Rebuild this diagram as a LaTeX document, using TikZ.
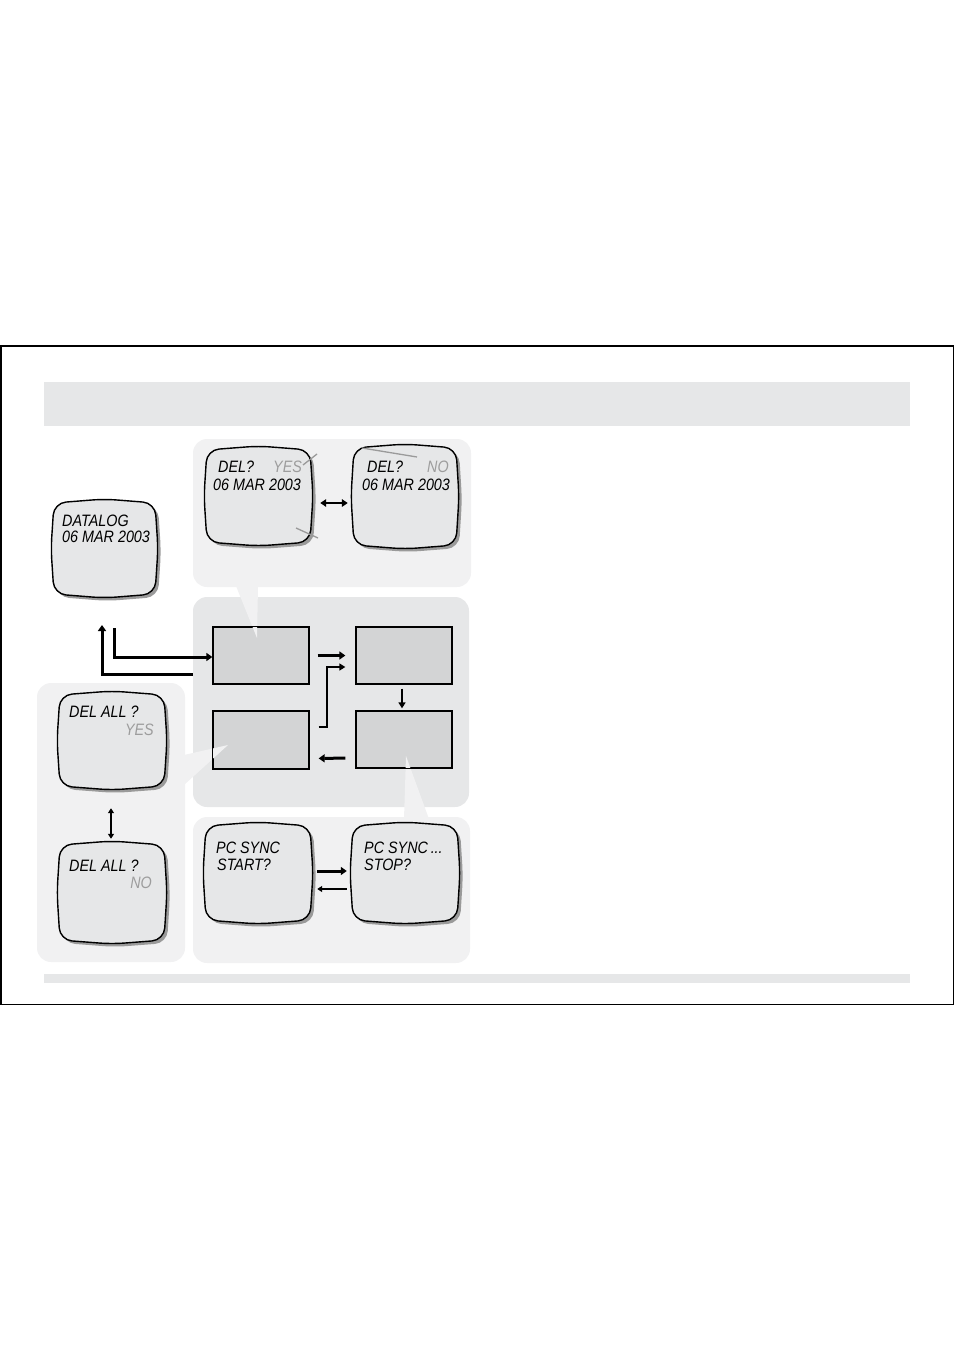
\documentclass[tikz,border=0pt]{standalone}
\usepackage{fontspec}
\setmainfont{Liberation Sans}
\newfontfamily\lcd{Liberation Sans Italic}[FakeStretch=0.87]
\usetikzlibrary{arrows.meta,calc}
\definecolor{hdr}{HTML}{E6E7E8}
\definecolor{lightpanel}{HTML}{F1F1F2}
\definecolor{midpanel}{HTML}{E6E7E8}
\definecolor{sqfill}{HTML}{D3D4D5}
\definecolor{tvfill}{HTML}{E6E7E8}
\definecolor{tvshade}{HTML}{9A9A9A}
\definecolor{dimtext}{HTML}{9D9D9D}
\definecolor{markline}{HTML}{9A9A9A}
\tikzset{
  panel/.style={rounded corners=14pt, inner sep=0pt},
  square/.style={draw=black, fill=sqfill, line width=1.3pt, minimum width=96pt, minimum height=57pt, inner sep=0pt},
  tvbody/.style={draw=black, fill=tvfill, line width=1.4pt, rounded corners=12pt},
  tvshadowc/.style={fill=tvshade, rounded corners=12pt},
  tvnode/.style={inner sep=0pt},
  lcdtext/.style={font=\lcd\fontsize{16.5}{18}\selectfont, inner sep=0pt, anchor=base west},
  lcddim/.style={lcdtext, text=dimtext},
  bigarrow/.style={line width=3pt, -{Triangle[length=6pt,width=8pt]}},
  midarrow/.style={line width=2pt, -{Triangle[length=6pt,width=7pt]}},
  thinarrow/.style={line width=1.6pt, -{Triangle[length=5pt,width=6pt]}},
  dblarrow/.style={line width=2.5pt, {Triangle[length=6pt,width=7.5pt]}-{Triangle[length=6pt,width=7.5pt]}},
  dblthin/.style={line width=1.6pt, {Triangle[length=5pt,width=6pt]}-{Triangle[length=5pt,width=6pt]}},
  marker/.style={draw=markline, line width=1.3pt},
}
\newcommand\TVscreen[5]{%
  \fill[tvshadowc, shift={(3,3)}] ({(#2+#4)/2},{#3-4}) -- ({#4},{#3}) -- ({#4+3},{(#3+#5)/2}) -- ({#4},{#5}) -- ({(#2+#4)/2},{#5+4}) -- ({#2},{#5}) -- ({#2-3},{(#3+#5)/2}) -- ({#2},{#3}) -- cycle;
  \filldraw[tvbody] ({(#2+#4)/2},{#3-4}) -- ({#4},{#3}) -- ({#4+3},{(#3+#5)/2}) -- ({#4},{#5}) -- ({(#2+#4)/2},{#5+4}) -- ({#2},{#5}) -- ({#2-3},{(#3+#5)/2}) -- ({#2},{#3}) -- cycle;
  \node[tvnode, minimum width={(#4-#2)*1pt}, minimum height={(#5-#3)*1pt}] (#1) at ({(#2+#4)/2},{(#3+#5)/2}) {};
}
\begin{document}
\begin{tikzpicture}[x=1pt,y=-1pt]
\useasboundingbox (0,0) rectangle (954,1351);
% frame and bars
\draw[line width=1.5pt] (0.75,345.75) rectangle (953.25,1004.25);
\fill[hdr] (44,382) rectangle (910,426);
\fill[hdr] (44,974) rectangle (910,983);
% panels
\node[panel, fill=lightpanel, minimum width=278pt, minimum height=148pt] (p1) at (332,513) {};
\node[panel, fill=lightpanel, minimum width=148pt, minimum height=279pt] (p3) at (111,822.5) {};
\node[panel, fill=lightpanel, minimum width=277pt, minimum height=146pt] (p4) at (331.5,890) {};
\node[panel, fill=midpanel, minimum width=276pt, minimum height=210pt] (p2) at (331,702) {};
% squares
\node[square] (tl) at (261,655.5) {};
\node[square] (tr) at (404,655.5) {};
\node[square] (bl) at (261,740) {};
\node[square] (br) at (404,739.5) {};
% callout pointers
\fill[lightpanel] (236,586) -- (258,586) -- (257,638) -- cycle;
\fill[lightpanel] (184,755) -- (184,785) -- (228,745) -- cycle;
\fill[lightpanel] (404,819) -- (429,819) -- (406,756) -- cycle;
\draw[line width=1.3pt] (tl.north west) rectangle (tl.south east);
\draw[line width=1.3pt] (bl.north west) rectangle (bl.south east);
\draw[line width=1.3pt] (br.north west) rectangle (br.south east);
% screens
\TVscreen{datalog}{54}{503}{155}{594}
\TVscreen{delyes}{207}{450}{310}{542}
\TVscreen{delno}{354}{448}{456}{545}
\TVscreen{dallyes}{60}{695}{164}{786}
\TVscreen{dallno}{60}{845}{164}{940}
\TVscreen{pcstart}{206}{826}{310}{920}
\TVscreen{pcstop}{353}{826}{457}{920}
% marker lines
\draw[marker] (303,465) -- (317,454);
\draw[marker] (296,528) -- (318,538);
\draw[marker] (362,448) -- (417,457);
% texts
\node[lcdtext] (t1) at (62,526) {DATALOG};
\node[lcdtext] (t2) at (62,542) {06 MAR 2003};
\node[lcdtext] (t3) at (218,472.5) {DEL?};
\node[lcddim] (t4) at (273,472.5) {YES};
\node[lcdtext] (t5) at (213,490) {06 MAR 2003};
\node[lcdtext] (t6) at (367,472.5) {DEL?};
\node[lcddim] (t7) at (427,472.5) {NO};
\node[lcdtext] (t8) at (362,490.5) {06 MAR 2003};
\node[lcdtext] (t9) at (69,717.5) {DEL ALL ?};
\node[lcddim, anchor=base east] (t10) at (154,735) {YES};
\node[lcdtext] (t11) at (69,871.5) {DEL ALL ?};
\node[lcddim, anchor=base east] (t12) at (152,888.5) {NO};
\node[lcdtext] (t13) at (216,853.5) {PC SYNC};
\node[lcdtext] (t14) at (217,870.5) {START?};
\node[lcdtext] (t15) at (364,853.5) {PC SYNC\,...};
\node[lcdtext] (t16) at (364,870.5) {STOP?};
% connectors
\coordinate (dlA) at (193,674);
\coordinate (dlB) at (102,625);
\coordinate (dlC) at (114,628);
\draw[bigarrow] (p2.west |- dlA) -| (dlB);
\draw[bigarrow] (dlC) |- ([yshift=-1.5pt]tl.west);
\draw[bigarrow, shorten <=8pt, shorten >=10pt] (tl.east) -- (tr.west);
\draw[midarrow] ([xshift=9pt,yshift=13pt]bl.east) -- ++(8,0) |- ([xshift=-10pt,yshift=-11.5pt]tr.west);
\draw[midarrow, shorten <=4pt, shorten >=2pt] ([xshift=-2pt]tr.south) -- ([xshift=-2pt]br.north);
\draw[bigarrow, shorten <=10pt, shorten >=9pt] ([yshift=-18.5pt]br.west) -- ([yshift=-18.5pt]bl.east);
\draw[dblarrow, shorten <=10pt, shorten >=6pt] ([yshift=-7pt]delyes.east) -- ([yshift=-6.5pt]delno.west);
\draw[dblthin, shorten <=22pt, shorten >=6pt] ([xshift=-1pt]dallyes.south) -- ([xshift=-1pt]dallno.north);
\draw[bigarrow, shorten <=7pt, shorten >=6pt] ([yshift=2pt]pcstart.east) -- ([yshift=2pt]pcstop.west);
\draw[thinarrow, shorten <=6pt, shorten >=7pt] ([yshift=-16pt]pcstop.west) -- ([yshift=-16pt]pcstart.east);
\end{tikzpicture}
\end{document}
